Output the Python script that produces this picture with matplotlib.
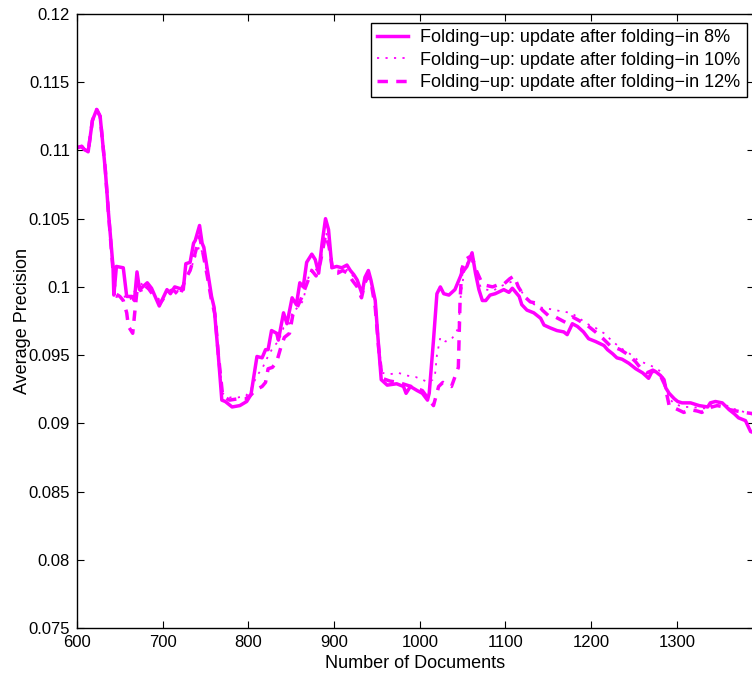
import matplotlib
matplotlib.use("Agg")
import matplotlib.pyplot as plt

# Folding-up, update after folding-in 8%
x_8 = [600, 605.5, 608, 613, 618, 623, 627, 633, 636.5, 642, 643, 646, 654, 658, 664, 667, 670, 673,
       682, 687, 696, 705, 709, 714, 724, 727, 732, 736, 738, 743, 746, 748, 751.5, 757, 760, 765,
       769, 773, 781, 790, 798, 803, 810, 816, 820, 823, 827, 833, 835, 841, 845, 851, 856, 860,
       864, 868, 874, 878, 882, 886, 890, 893.5, 897.5, 903, 909, 915, 919, 923, 927, 932.5, 936,
       940, 943, 948, 952, 955, 962, 973, 981, 984, 989, 997, 1003, 1009, 1011, 1016, 1020, 1024,
       1028, 1034, 1041, 1045, 1049, 1055, 1061, 1065, 1069, 1073, 1077, 1082, 1088, 1098, 1104,
       1108, 1112, 1116, 1119, 1125, 1133, 1141, 1145, 1152, 1160, 1168, 1172, 1178, 1184, 1191,
       1197, 1205, 1215, 1219, 1225, 1230, 1236, 1244, 1252, 1260, 1267, 1271, 1275, 1281, 1285,
       1287, 1291, 1297, 1301, 1306, 1316, 1326, 1336, 1339, 1345, 1353, 1361, 1367, 1372, 1380,
       1386, 1390]
y_8 = [.1102, .1103, .1101, .1099, .1122, .1130, .1125, .1086, .1056, .1015, .0994, .1015, .1014,
       .0993, .0993, .0990, .1011, .0998, .1003, .0999, .0986, .0998, .0995, .1000, .0998, .1017,
       .1018, .1032, .1034, .1045, .1032, .1029, .1015, .0993, .0985, .0949, .0917, .0916, .0912,
       .0913, .0916, .0921, .0949, .0948, .0954, .0954, .0968, .0966, .0961, .0981, .0973, .0992,
       .0987, .1003, .1000, .1018, .1024, .1020, .1010, .1032, .1050, .1042, .1014, .1015, .1014,
       .1016, .1012, .1009, .1005, .0995, .1007, .1012, .1005, .0990, .0956, .0932, .0928, .0929,
       .0927, .0922, .0927, .0924, .0922, .0917, .0922, .0961, .0995, .1000, .0995, .0994, .0998,
       .1004, .1010, .1015, .1025, .1010, .0998, .0990, .0990, .0994, .0995, .0998, .0996, .0999,
       .0996, .0993, .0987, .0983, .0981, .0977, .0972, .0970, .0968, .0967, .0965, .0973, .0971,
       .0967, .0962, .0960, .0957, .0954, .0951, .0948, .0947, .0944, .0940, .0937, .0933, .0938,
       .0938, .0935, .0932, .0926, .0922, .0918, .0916, .0915, .0915, .0913, .0912, .0915, .0916,
       .0915, .0910, .0907, .0904, .0902, .0894, .0893]

# update after folding-in 10%
x_10 = [600, 605.5, 608, 613, 618, 623, 627, 633, 636.5, 642, 644, 650, 656, 660, 664, 668, 672,
        678, 684, 690, 697, 705, 712, 720, 726, 732, 738, 743, 747, 752, 757, 761, 765, 770, 778,
        788, 797, 803, 810, 816, 822, 829, 835, 841, 847, 852, 858, 864, 869, 875, 880, 885, 890,
        894, 899, 905, 911, 917, 922, 928, 933, 937, 941, 944, 948, 952, 956, 965, 975, 985, 995,
        1003, 1010, 1015, 1018, 1020, 1024, 1030, 1036, 1041, 1045, 1048, 1052, 1057, 1062, 1066,
        1071, 1078, 1085, 1093, 1100, 1108, 1113, 1117, 1124, 1131, 1140, 1150, 1158, 1166, 1176,
        1184, 1195, 1205, 1215, 1225, 1235, 1245, 1255, 1267, 1274, 1281, 1286, 1291, 1298, 1308,
        1318, 1328, 1336, 1342, 1348, 1356, 1363, 1370, 1380, 1390]
y_10 = [.1102, .1103, .1101, .1099, .1122, .1130, .1125, .1086, .1056, .1010, .0993, .0992, .0993,
        .0990, .0992, .0998, .1005, .1000, .1001, .0995, .0990, .0996, .0999, .0996, .1008, .1012,
        .1022, .1030, .1024, .1010, .0992, .0983, .0950, .0922, .0919, .0919, .0920, .0925, .0935,
        .0940, .0948, .0956, .0960, .0970, .0972, .0982, .0985, .0990, .1005, .1015, .1012, .1022,
        .1040, .1035, .1012, .1012, .1013, .1012, .1008, .1003, .0995, .1005, .1010, .1002, .0988,
        .0958, .0937, .0936, .0937, .0935, .0934, .0932, .0930, .0932, .0937, .0950, .0963, .0960,
        .0961, .0965, .0970, .0995, .1012, .1020, .1018, .1008, .1000, .0998, .0997, .1000, .1002,
        .1004, .1002, .0998, .0992, .0988, .0985, .0984, .0983, .0982, .0981, .0978, .0973, .0970,
        .0966, .0960, .0955, .0951, .0946, .0943, .0941, .0938, .0930, .0918, .0914, .0912, .0912,
        .0911, .0911, .0914, .0915, .0914, .0911, .0910, .0908, .0906]

# update after folding-in 12%
x_12 = [600, 605.5, 608, 613, 618, 623, 627, 633, 636.5, 642, 645, 650, 654, 658, 660, 665, 668,
        671, 676, 682, 690, 697, 705, 712, 720, 726, 732, 738, 743, 746, 752, 757, 761, 765, 770,
        778, 788, 797, 803, 810, 816, 820, 823, 828, 833, 838, 842, 848, 852, 857, 862, 868, 874,
        879, 884, 890, 894, 899, 904, 910, 916, 921, 927, 932, 936, 940, 944, 948, 952, 956, 965,
        975, 985, 995, 1003, 1010, 1016, 1022, 1027, 1033, 1037, 1041, 1045, 1047, 1049, 1053,
        1058, 1062, 1066, 1071, 1078, 1085, 1093, 1098, 1105, 1110, 1115, 1122, 1129, 1137, 1143,
        1150, 1158, 1164, 1170, 1178, 1184, 1195, 1205, 1214, 1222, 1234, 1244, 1252, 1257, 1265,
        1272, 1280, 1286, 1291, 1298, 1308, 1316, 1324, 1329, 1335, 1341, 1347, 1355, 1362, 1370,
        1378, 1390]
y_12 = [.1102, .1103, .1101, .1099, .1122, .1130, .1125, .1086, .1056, .1012, .0995, .0993, .0990,
        .0981, .0971, .0966, .0985, .1003, .0995, .1000, .0993, .0988, .0995, .0998, .0993, .1005,
        .1012, .1025, .1037, .1028, .1008, .0990, .0980, .0950, .0920, .0917, .0918, .0918, .0921,
        .0925, .0927, .0930, .0940, .0941, .0945, .0956, .0963, .0966, .0980, .0985, .0992, .1002,
        .1012, .1008, .1018, .1038, .1030, .1010, .1010, .1012, .1010, .1005, .1000, .0992, .1003,
        .1008, .1000, .0985, .0955, .0933, .0931, .0930, .0928, .0926, .0924, .0918, .0913, .0927,
        .0930, .0928, .0927, .0934, .0941, .0990, .1013, .1020, .1022, .1020, .1012, .1005, .1001,
        .1000, .1002, .1002, .1006, .1008, .1000, .0993, .0989, .0988, .0983, .0979, .0978, .0976,
        .0974, .0978, .0976, .0972, .0967, .0962, .0957, .0954, .0950, .0945, .0941, .0937, .0939,
        .0936, .0928, .0913, .0911, .0908, .0910, .0909, .0908, .0910, .0912, .0913, .0912, .0910,
        .0909, .0908, .0907]

labels = ["Folding\u2212up: update after folding\u2212in 8%",
          "Folding\u2212up: update after folding\u2212in 10%",
          "Folding\u2212up: update after folding\u2212in 12%"]
x_ticks = [600, 700, 800, 900, 1000, 1100, 1200, 1300]
y_ticks = [0.075, 0.08, 0.085, 0.09, 0.095, 0.1, 0.105, 0.11, 0.115, 0.12]
y_tick_labels = ["0.075", "0.08", "0.085", "0.09", "0.095", "0.1", "0.105", "0.11", "0.115", "0.12"]

magenta = "#ff00ff"
plt.rcParams["font.family"] = ["Liberation Sans", "DejaVu Sans"]

fig = plt.figure(figsize=(7.52, 6.79), dpi=100)
ax = fig.add_axes([77 / 752, 51 / 679, 677 / 752, 614 / 679])

ax.plot(x_8, y_8, color=magenta, lw=2.5, ls="-", label=labels[0])
ax.plot(x_10, y_10, color=magenta, lw=1.3, ls=(0, (1.2, 3.5)), label=labels[1])
ax.plot(x_12, y_12, color=magenta, lw=2.5, ls=(0, (3, 2.4)), label=labels[2])

ax.set_xlim(600, 1390)
ax.set_ylim(0.075, 0.12)
ax.set_xticks(x_ticks)
ax.set_xticklabels([str(t) for t in x_ticks], fontsize=12)
ax.set_yticks(y_ticks)
ax.set_yticklabels(y_tick_labels, fontsize=12)
ax.tick_params(direction="in", length=5, width=0.8, top=True, right=True, pad=5)
for s in ax.spines.values():
    s.set_linewidth(1.0)

ax.set_xlabel("Number of Documents", fontsize=13, labelpad=4)
ax.set_ylabel("Average Precision", fontsize=13, labelpad=-2)

leg = ax.legend(loc="upper right", bbox_to_anchor=(747 / 752, 1 - 23 / 679),
                bbox_transform=fig.transFigure, borderaxespad=0, fontsize=13,
                handlelength=1.7, handletextpad=0.7, labelspacing=0.3,
                borderpad=0.35, fancybox=False, framealpha=1)
leg.get_frame().set_edgecolor("black")
leg.get_frame().set_linewidth(1.0)

fig.savefig("out.png", dpi=100)
